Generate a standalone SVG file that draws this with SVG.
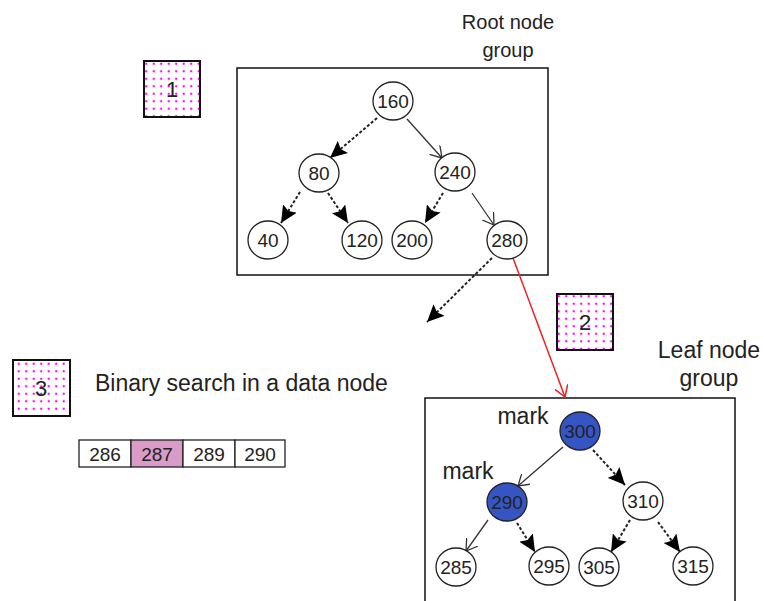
<svg xmlns="http://www.w3.org/2000/svg" width="763" height="601" viewBox="0 0 763 601">
<style>
text{font-family:"Liberation Sans",Arial,sans-serif;fill:#222}
.lbl{font-size:20px}
.big{font-size:23px}
.num{font-size:19px;text-anchor:middle}
.box{fill:url(#dots);stroke:#111;stroke-width:2}
.boxn{font-size:22px;text-anchor:middle}
.grp{fill:none;stroke:#111;stroke-width:1.5}
.nd{fill:#fff;stroke:#222;stroke-width:1.3}
.blue{fill:#3655C4;stroke:#222;stroke-width:1.3}
.sol{stroke:#333;stroke-width:1.3;fill:none;marker-end:url(#open)}
.dash{stroke:#222;stroke-width:2;stroke-dasharray:3,2;fill:none;marker-end:url(#fill)}
.cell{fill:#fff;stroke:#222;stroke-width:1.3}
</style>
<defs>
<pattern id="dots" width="7.5" height="7.5" patternUnits="userSpaceOnUse">
<rect width="7.5" height="7.5" fill="#fff"/>
<circle cx="3.7" cy="3.7" r="1.2" fill="#f0f"/>
</pattern>
<marker id="fill" markerUnits="userSpaceOnUse" markerWidth="18" markerHeight="16" refX="17" refY="8" orient="auto">
<path d="M0,0 L17,8 L0,16 L3,8 z" fill="#000"/>
</marker>
<marker id="open" markerUnits="userSpaceOnUse" markerWidth="14" markerHeight="14" refX="11" refY="7" orient="auto">
<path d="M0,0 L11,7 L0,14" fill="none" stroke="#333" stroke-width="1.3"/>
</marker>
<marker id="openr" markerUnits="userSpaceOnUse" markerWidth="14" markerHeight="14" refX="11" refY="7" orient="auto">
<path d="M0,0 L11,7 L0,14" fill="none" stroke="#e22" stroke-width="1.5"/>
</marker>
</defs>
<rect width="763" height="601" fill="#fff"/>

<g id="labels">
<text class="lbl" x="508" y="29" text-anchor="middle">Root node</text>
<text class="lbl" x="508" y="57" text-anchor="middle">group</text>
<text class="big" x="709" y="358" text-anchor="middle">Leaf node</text>
<text class="big" x="709" y="386" text-anchor="middle">group</text>
<text class="big" x="95" y="391">Binary search in a data node</text>
<text class="big" x="523" y="424" text-anchor="middle">mark</text>
<text class="big" x="468" y="479" text-anchor="middle">mark</text>
</g>

<g id="step1"><rect class="box" x="144" y="61" width="56" height="56"/><text class="boxn" x="172" y="97">1</text></g>
<g id="step2"><rect class="box" x="557" y="294" width="56" height="56"/><text class="boxn" x="585" y="330">2</text></g>
<g id="step3"><rect class="box" x="13" y="360" width="57" height="56"/><text class="boxn" x="41" y="396">3</text></g>

<g id="root-group"><rect class="grp" x="237" y="68" width="311" height="207"/></g>
<g id="leaf-group"><rect class="grp" x="425" y="398" width="310" height="220"/></g>

<g id="connectors">
<line class="dash" x1="377" y1="118" x2="330" y2="158"/>
<line class="sol" x1="407" y1="119" x2="442" y2="158"/>
<line class="dash" x1="300" y1="192" x2="281" y2="223"/>
<line class="dash" x1="328" y1="193" x2="348" y2="223"/>
<line class="dash" x1="443" y1="193" x2="425" y2="223"/>
<line class="sol" x1="472" y1="193" x2="494" y2="225"/>
<line class="dash" x1="492" y1="258" x2="427" y2="322"/>
<line x1="513" y1="258" x2="565" y2="397" stroke="#e22" stroke-width="1.5" marker-end="url(#openr)"/>
<line class="sol" x1="563" y1="447" x2="518" y2="486"/>
<line class="dash" x1="593" y1="450" x2="625" y2="485"/>
<line class="sol" x1="488" y1="520" x2="466" y2="551"/>
<line class="dash" x1="517" y1="523" x2="535" y2="552"/>
<line class="dash" x1="630" y1="520" x2="611" y2="552"/>
<line class="dash" x1="658" y1="522" x2="680" y2="552"/>
</g>

<g id="n160"><ellipse class="nd" cx="393" cy="101" rx="20" ry="19"/><text class="num" x="393" y="108">160</text></g>
<g id="n80"><ellipse class="nd" cx="319" cy="173" rx="20" ry="19"/><text class="num" x="319" y="180">80</text></g>
<g id="n240"><ellipse class="nd" cx="455" cy="172" rx="20" ry="19"/><text class="num" x="455" y="179">240</text></g>
<g id="n40"><ellipse class="nd" cx="268" cy="240" rx="20" ry="19"/><text class="num" x="268" y="247">40</text></g>
<g id="n120"><ellipse class="nd" cx="362" cy="240" rx="20" ry="19"/><text class="num" x="362" y="247">120</text></g>
<g id="n200"><ellipse class="nd" cx="412" cy="240" rx="20" ry="19"/><text class="num" x="412" y="247">200</text></g>
<g id="n280"><ellipse class="nd" cx="507" cy="240" rx="20" ry="19"/><text class="num" x="507" y="247">280</text></g>

<g id="n300"><ellipse class="blue" cx="580" cy="431" rx="20" ry="19"/><text class="num" x="580" y="438">300</text></g>
<g id="n290"><ellipse class="blue" cx="507" cy="502" rx="20" ry="19"/><text class="num" x="507" y="509">290</text></g>
<g id="n310"><ellipse class="nd" cx="643" cy="501" rx="20" ry="19"/><text class="num" x="643" y="508">310</text></g>
<g id="n285"><ellipse class="nd" cx="456" cy="567" rx="20" ry="19"/><text class="num" x="456" y="574">285</text></g>
<g id="n295"><ellipse class="nd" cx="549" cy="566" rx="20" ry="19"/><text class="num" x="549" y="573">295</text></g>
<g id="n305"><ellipse class="nd" cx="599" cy="567" rx="20" ry="19"/><text class="num" x="599" y="574">305</text></g>
<g id="n315"><ellipse class="nd" cx="693" cy="566" rx="20" ry="19"/><text class="num" x="693" y="573">315</text></g>

<g id="data-node">
<rect class="cell" x="79" y="440" width="52" height="27"/>
<rect class="cell" x="131" y="440" width="52" height="27" style="fill:#d99bc7"/>
<rect class="cell" x="183" y="440" width="52" height="27"/>
<rect class="cell" x="235" y="440" width="50" height="27"/>
<text class="num" x="105" y="461">286</text>
<text class="num" x="157" y="461">287</text>
<text class="num" x="209" y="461">289</text>
<text class="num" x="260" y="461">290</text>
</g>
</svg>
